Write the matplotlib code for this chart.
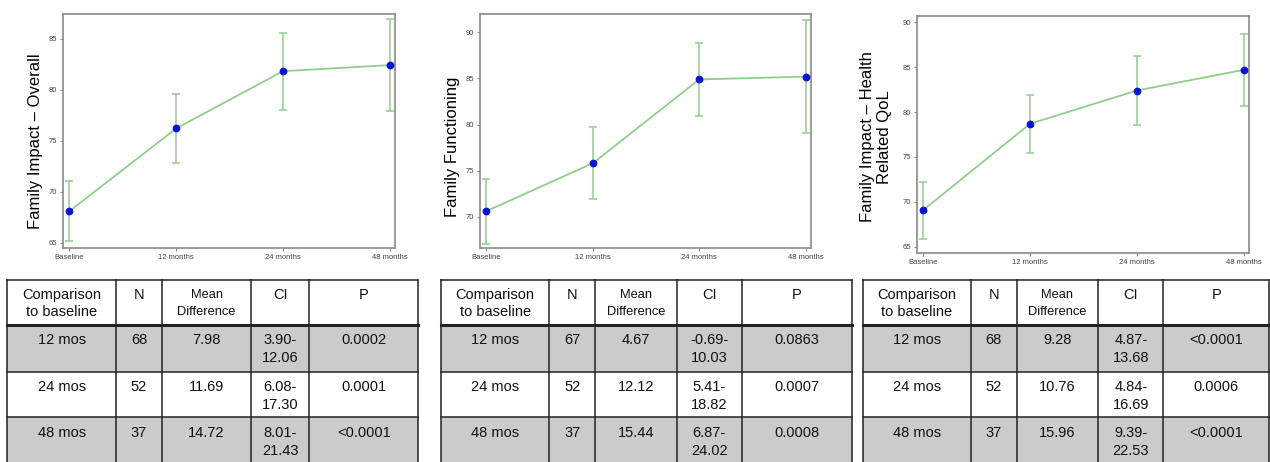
import matplotlib
matplotlib.use("Agg")
import matplotlib.pyplot as plt
from matplotlib.patches import Rectangle

plt.rcParams['font.family'] = ['Liberation Sans', 'DejaVu Sans']

# ---------------- data ----------------
timepoints = ["Baseline", "12 months", "24 months", "48 months"]

overall_mean = [68.1, 76.2, 81.8, 82.4]
overall_lo = [65.2, 72.8, 78.0, 77.9]
overall_hi = [71.1, 79.6, 85.5, 86.9]

functioning_mean = [70.6, 75.8, 84.9, 85.2]
functioning_lo = [67.0, 71.9, 80.9, 79.1]
functioning_hi = [74.1, 79.7, 88.9, 91.3]

hrqol_mean = [69.1, 78.7, 82.4, 84.7]
hrqol_lo = [65.9, 75.4, 78.6, 80.7]
hrqol_hi = [72.2, 81.9, 86.2, 88.7]

ylabels = ["Family Impact \u2013 Overall", "Family Functioning",
           "Family Impact \u2013 Health\nRelated QoL"]
yticks_list = [[65, 70, 75, 80, 85], [70, 75, 80, 85, 90], [65, 70, 75, 80, 85, 90]]

table_header = ["Comparison\nto baseline", "N", "Mean\nDifference", "CI", "P"]
comparisons = ["12 mos", "24 mos", "48 mos"]

overall_n = ["68", "52", "37"]
overall_md = ["7.98", "11.69", "14.72"]
overall_ci = ["3.90-\n12.06", "6.08-\n17.30", "8.01-\n21.43"]
overall_p = ["0.0002", "0.0001", "<0.0001"]

functioning_n = ["67", "52", "37"]
functioning_md = ["4.67", "12.12", "15.44"]
functioning_ci = ["-0.69-\n10.03", "5.41-\n18.82", "6.87-\n24.02"]
functioning_p = ["0.0863", "0.0007", "0.0008"]

hrqol_n = ["68", "52", "37"]
hrqol_md = ["9.28", "10.76", "15.96"]
hrqol_ci = ["4.87-\n13.68", "4.84-\n16.69", "9.39-\n22.53"]
hrqol_p = ["<0.0001", "0.0006", "<0.0001"]

# ---------------- layout ----------------
W, H = 1270, 462
fig = plt.figure(figsize=(W / 100, H / 100), dpi=100)

def px_axes(l, r, t, b):
    return fig.add_axes([l / W, 1 - b / H, (r - l) / W, (b - t) / H])

plots = [
    dict(box=(63, 395, 14, 248), ylim=(64.5, 87.4), mean=overall_mean, lo=overall_lo, hi=overall_hi,
         lab_x=36, lab_y=141),
    dict(box=(480, 811, 14, 248), ylim=(66.6, 92.0), mean=functioning_mean, lo=functioning_lo,
         hi=functioning_hi, lab_x=453, lab_y=147),
    dict(box=(917, 1249, 16, 253), ylim=(64.3, 90.7), mean=hrqol_mean, lo=hrqol_lo, hi=hrqol_hi,
         lab_x=876, lab_y=137),
]

green = "#8fcf8a"
blue = "#0a14d2"
spine_c = "#8a8a8a"

for i, p in enumerate(plots):
    ax = px_axes(*p["box"])
    x = list(range(len(timepoints)))
    yerr = [[m - l for m, l in zip(p["mean"], p["lo"])],
            [h - m for m, h in zip(p["mean"], p["hi"])]]
    ax.errorbar(x, p["mean"], yerr=yerr, fmt='none', ecolor=green, elinewidth=1.1,
                capsize=3.2, capthick=1.1, zorder=2)
    ax.plot(x, p["mean"], color=green, lw=1.3, zorder=3)
    ax.plot(x, p["mean"], 'o', color=blue, ms=4.6, zorder=4)
    ax.set_xlim(-0.06, 3.05)
    ax.set_ylim(*p["ylim"])
    ax.set_xticks(x)
    ax.set_xticklabels(timepoints)
    ax.set_yticks(yticks_list[i])
    ax.tick_params(axis='both', labelsize=5.5, colors=spine_c, labelcolor="#444444",
                   length=2.5, width=0.8, pad=1.5)
    for s in ax.spines.values():
        s.set_color(spine_c)
        s.set_linewidth(1.2)
    fig.text(p["lab_x"] / W, 1 - p["lab_y"] / H, ylabels[i], rotation=90, fontsize=12,
             ha='center', va='center', linespacing=1.1)

# overlay axes for tables
ov = fig.add_axes([0, 0, 1, 1])
ov.set_xlim(0, W)
ov.set_ylim(H, 0)
ov.axis('off')

tables = [
    dict(cols=[7.3, 116, 162, 251, 309.3, 418.3], n=overall_n, md=overall_md, ci=overall_ci, p=overall_p),
    dict(cols=[441, 549.3, 595, 676.7, 741.7, 851.7], n=functioning_n, md=functioning_md,
         ci=functioning_ci, p=functioning_p),
    dict(cols=[862.7, 971, 1016.7, 1098.3, 1163.3, 1269], n=hrqol_n, md=hrqol_md, ci=hrqol_ci,
         p=hrqol_p),
]
row_edges = [280, 325, 371.7, 417.3, 470]
row_fill = ["white", "#cbcbcb", "white", "#cbcbcb"]
line_c = "#222222"

for t in tables:
    cols = t["cols"]
    for r in range(4):
        ov.add_patch(Rectangle((cols[0], row_edges[r]), cols[-1] - cols[0],
                               row_edges[r + 1] - row_edges[r], facecolor=row_fill[r],
                               edgecolor='none', zorder=1))
    for c in cols:
        ov.plot([c, c], [row_edges[0], row_edges[-1]], color=line_c, lw=1.1, zorder=3)
    for k, y in enumerate(row_edges[:-1]):
        lw = 2.2 if k == 1 else 1.1
        ov.plot([cols[0], cols[-1]], [y, y], color=line_c, lw=lw, zorder=3)
    centers = [(cols[j] + cols[j + 1]) / 2 for j in range(5)]
    for j, h in enumerate(table_header):
        fs = 9.3 if j == 2 else 10.5
        for li, s in enumerate(h.split("\n")):
            ov.text(centers[j], row_edges[0] + 15 + li * 17, s, ha='center', va='center',
                    fontsize=fs, color="#111111", zorder=4)
    for r in range(3):
        top = row_edges[r + 1]
        cells = [comparisons[r], t["n"][r], t["md"][r], t["ci"][r], t["p"][r]]
        for j, s in enumerate(cells):
            for li, part in enumerate(s.split("\n")):
                ov.text(centers[j], top + 15.5 + li * 18, part, ha='center', va='center',
                        fontsize=10.5, color="#111111", zorder=4)

fig.savefig("out.png", dpi=100, facecolor="white")
